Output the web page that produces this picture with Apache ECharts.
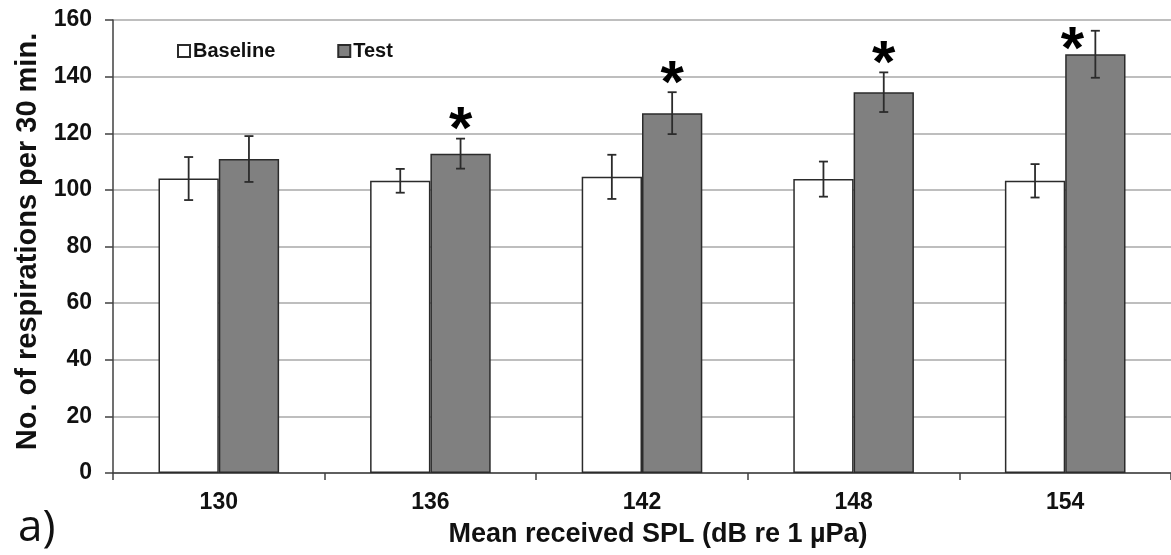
<!DOCTYPE html>
<html>
<head>
<meta charset="utf-8">
<script src="https://cdn.jsdelivr.net/npm/echarts@6/dist/echarts.min.js"></script>
<style>
  html, body { margin: 0; padding: 0; background: #fff; }
  #chart { width: 1171px; height: 555px; }
</style>
</head>
<body>
<div id="chart"></div>
<script>
// Mean received sound pressure level (dB re 1 µPa)
const categories = ['130', '136', '142', '148', '154'];
// Respirations per 30 min: mean and error-bar half-width
const baseline = [104.0, 103.2, 104.6, 103.8, 103.2];
const baselineErr = [7.6, 4.2, 7.8, 6.2, 5.9];
const test = [110.9, 112.8, 127.1, 134.5, 147.9];
const testErr = [8.1, 5.3, 7.4, 7.0, 8.3];
// Test differs significantly from baseline
const significant = [false, true, true, true, true];
const yTicks = [0, 20, 40, 60, 80, 100, 120, 140, 160];

const FONT = '"Liberation Sans", Arial, sans-serif';
const CAT_GAP = 0.43;                 // fraction of each band left empty
const BAR_FRAC = (1 - CAT_GAP) / 2;   // width of one bar as a fraction of the band
const Y_TOP = yTicks[yTicks.length - 1];

const chart = echarts.init(document.getElementById('chart'), null, { renderer: 'canvas' });

function errorBarItem(side) {
  return function (params, api) {
    const idx = api.value(0), mean = api.value(1), err = api.value(2);
    const band = api.size([1, 0])[0];
    const dx = side * band * BAR_FRAC / 2;
    const hi = api.coord([idx, mean + err]);
    const lo = api.coord([idx, mean - err]);
    const x = hi[0] + dx;
    const cap = 4.5;
    const style = { stroke: '#2b2b2b', lineWidth: 1.8 };
    return {
      type: 'group',
      children: [
        { type: 'line', shape: { x1: x, y1: hi[1], x2: x, y2: lo[1] }, style },
        { type: 'line', shape: { x1: x - cap, y1: hi[1], x2: x + cap, y2: hi[1] }, style },
        { type: 'line', shape: { x1: x - cap, y1: lo[1], x2: x + cap, y2: lo[1] }, style }
      ]
    };
  };
}

function starItem(params, api) {
  const idx = api.value(0), mean = api.value(1), err = api.value(2);
  const band = api.size([1, 0])[0];
  const dx = band * BAR_FRAC / 2;
  const top = api.coord([idx, mean + err]);
  const limit = api.coord([idx, Y_TOP - 8]);
  let x = top[0] + dx, y;
  if (top[1] - 20 < limit[1]) {
    // no room above the error bar: set the star beside it
    x -= 23;
    y = top[1] + 7;
  } else {
    y = top[1] - 21;
  }
  return {
    type: 'text',
    x: x, y: y + 14,
    style: {
      text: '*', font: 'bold 60px ' + FONT, fill: '#000',
      align: 'center', verticalAlign: 'middle'
    }
  };
}

const option = {
  animation: false,
  backgroundColor: '#fff',
  textStyle: { fontFamily: FONT },
  grid: { left: 113, top: 20, bottom: 82, right: -10, containLabel: false },
  legend: {
    data: ['Baseline', 'Test'],
    left: 172, top: 36,
    icon: 'rect', itemWidth: 12, itemHeight: 12, itemGap: 62,
    textStyle: { fontFamily: FONT, fontWeight: 'bold', fontSize: 20, color: '#111', padding: [0, 0, 0, -2] }
  },
  xAxis: {
    type: 'category',
    data: categories,
    axisLine: { lineStyle: { color: '#404040', width: 1.5 } },
    axisTick: { show: true, length: 7, interval: 0, lineStyle: { color: '#404040', width: 1.5 } },
    axisLabel: { fontFamily: FONT, fontWeight: 'bold', fontSize: 23, color: '#111', margin: 18 },
    name: 'Mean received SPL (dB re 1 µPa)',
    nameLocation: 'middle',
    nameGap: 48,
    nameTextStyle: { fontFamily: FONT, fontWeight: 'bold', fontSize: 27, color: '#111', padding: [0, 0, 0, 32] }
  },
  yAxis: {
    type: 'value',
    min: yTicks[0], max: Y_TOP, interval: yTicks[1] - yTicks[0],
    axisLine: { show: true, lineStyle: { color: '#404040', width: 1.5 } },
    axisTick: { show: true, length: 8, inside: false, lineStyle: { color: '#404040', width: 1.5 } },
    axisLabel: { fontFamily: FONT, fontWeight: 'bold', fontSize: 23, color: '#111', margin: 21 },
    splitLine: { show: true, lineStyle: { color: '#a8a8a8', width: 1.5 } },
    name: 'No. of respirations per 30 min.',
    nameLocation: 'middle',
    nameGap: 71,
    nameTextStyle: { fontFamily: FONT, fontWeight: 'bold', fontSize: 29, color: '#111', padding: [0, 0, 0, 10] }
  },
  series: [
    {
      name: 'Baseline', type: 'bar', data: baseline,
      barGap: '0%', barCategoryGap: (CAT_GAP * 100) + '%',
      itemStyle: { color: '#ffffff', borderColor: '#2b2b2b', borderWidth: 1.5 }
    },
    {
      name: 'Test', type: 'bar', data: test,
      itemStyle: { color: '#808080', borderColor: '#2b2b2b', borderWidth: 1.5 }
    },
    {
      name: 'Baseline error', type: 'custom', z: 5,
      renderItem: errorBarItem(-1),
      data: baseline.map((v, i) => [i, v, baselineErr[i]])
    },
    {
      name: 'Test error', type: 'custom', z: 5,
      renderItem: errorBarItem(1),
      data: test.map((v, i) => [i, v, testErr[i]])
    },
    {
      name: 'Significance', type: 'custom', z: 6,
      renderItem: starItem,
      data: test.map((v, i) => [i, v, testErr[i]]).filter((d, i) => significant[i])
    }
  ],
  graphic: [
    {
      type: 'text', left: 18, top: 506,
      style: { text: 'a)', font: '44px "Open Sans", sans-serif', fill: '#111' }
    }
  ]
};

chart.setOption(option);
</script>
</body>
</html>
